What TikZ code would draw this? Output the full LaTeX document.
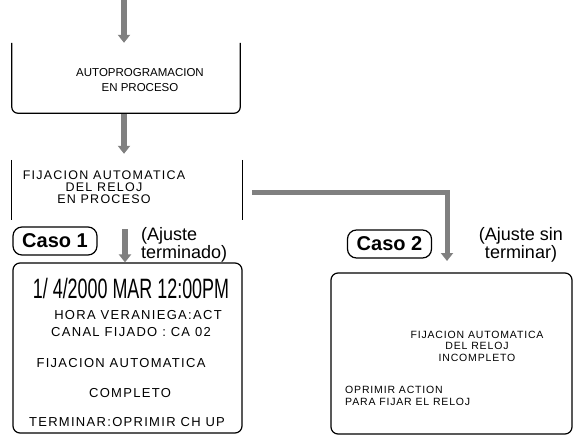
\documentclass[tikz,border=0pt]{standalone}
\usepackage{fontspec}
\usepackage{graphicx}
\setmainfont{Liberation Sans}
\newfontfamily\lcdfont[LetterSpace=10]{Liberation Sans}
\newfontfamily\lcdsmall[LetterSpace=8]{Liberation Sans}
\usetikzlibrary{arrows.meta}
\begin{document}
\begin{tikzpicture}[x=1pt,y=-1pt,
  edge/.style={line width=1.2pt},
  frame/.style={draw, line width=1.2pt, rounded corners=7pt, inner sep=0pt},
  hold/.style={inner sep=0pt},
  garrow/.style={draw=black!50, line width=6pt, -{Triangle[width=12pt,length=8pt]}},
  gline/.style={draw=black!50, line width=5pt, -{Triangle[width=12pt,length=8pt]}},
  caso/.style={draw, line width=1.2pt, rounded corners=9pt, font=\fontsize{20}{20}\selectfont\bfseries, minimum width=84pt, minimum height=28pt, inner sep=0pt},
  note/.style={font=\fontsize{18}{16}\selectfont, inner sep=0pt},
  lcd/.style={font=\fontsize{13}{14}\selectfont\lcdfont, inner sep=0pt},
  lcdb/.style={font=\fontsize{12.5}{12}\selectfont\lcdfont, inner sep=0pt},
  lcds/.style={font=\fontsize{10.5}{11.5}\selectfont\lcdsmall, inner sep=0pt}]
\useasboundingbox (0,0) rectangle (582,437);

% box 1
\node[hold, minimum width=228pt, minimum height=70pt] (b1) at (126,78) {};
\draw[edge, rounded corners=6pt] (b1.north west) -- (b1.south west) -- (b1.south east) -- (b1.north east);
\node[hold, font=\fontsize{11.5}{15}\selectfont, align=center] (t1) at (140,80) {AUTOPROGRAMACION\\EN PROCESO};
\coordinate (s0) at (124,0);
\draw[garrow] (s0) -- (s0 |- b1.north);

% box 2
\node[hold, minimum width=230pt, minimum height=60pt] (b2) at (127,190) {};
\draw[edge] (b2.north west) -- (b2.south west) (b2.north east) -- (b2.south east);
\node[lcdb, align=center] (t2) at (104,187) {FIJACION AUTOMATICA\\DEL RELOJ\\EN PROCESO};
\coordinate (s1) at (124,114);
\draw[garrow, shorten >=6pt] (s1) -- (s1 |- b2.north);

% case 1
\node[caso] (c1) at (55,241) {Caso 1};
\node[note, anchor=west, align=left] (n1) at (141,245) {(Ajuste\\terminado)};
\node[frame, minimum width=229pt, minimum height=170pt] (b3) at (127.5,348) {};
\coordinate (a1) at (125,229);
\draw[garrow] (a1) -- (a1 |- b3.north);
\node[hold, font=\fontsize{28}{28}\selectfont] (d3) at (131,288) {\scalebox{0.64}[1]{1/ 4/2000 MAR 12:00PM}};
\node[lcd] (h3) at (138,315) {HORA VERANIEGA:ACT};
\node[lcd] (k3) at (131,332) {CANAL FIJADO : CA 02};
\node[lcd] (f3) at (121,363) {FIJACION AUTOMATICA};
\node[lcd] (m3) at (130,393) {COMPLETO};
\node[lcd] (e3) at (127,422) {TERMINAR:OPRIMIR CH UP};

% case 2
\node[caso] (c2) at (389.5,244) {Caso 2};
\node[note, align=center] (n2) at (521,245) {(Ajuste sin\\terminar)};
\node[frame, minimum width=241pt, minimum height=161pt] (b4) at (451.5,353.5) {};
\coordinate (g0) at (252,192);
\coordinate (a2) at (447,261);
\draw[gline] (g0) -| (a2);
\node[lcds, align=center] (f4) at (477,346) {FIJACION AUTOMATICA\\DEL RELOJ\\INCOMPLETO};
\node[lcds, align=left, anchor=west] (o4) at (345,396) {OPRIMIR ACTION\\PARA FIJAR EL RELOJ};
\end{tikzpicture}
\end{document}
